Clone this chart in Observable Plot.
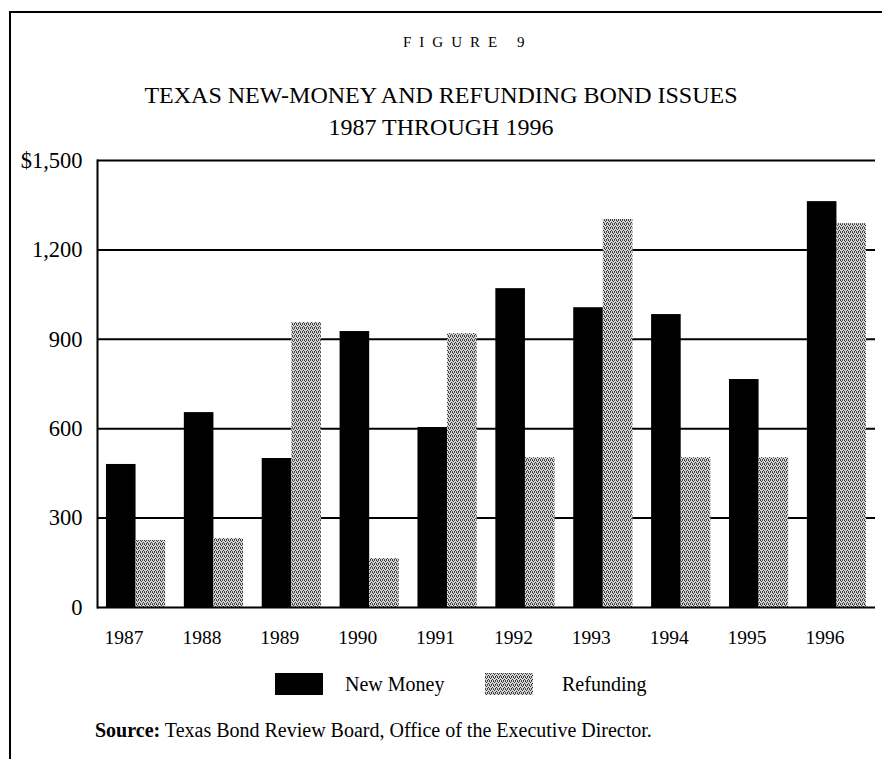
<!DOCTYPE html>
<html>
<head>
<meta charset="utf-8">
<script src="https://cdn.jsdelivr.net/npm/d3@7"></script>
<script src="https://cdn.jsdelivr.net/npm/@observablehq/plot@0.6"></script>
<style>
  html, body { margin: 0; padding: 0; background: #fff; }
  #page { position: relative; width: 882px; height: 759px; overflow: hidden; font-family: "Liberation Serif", serif; color: #000; }
  .abs { position: absolute; line-height: 1; white-space: nowrap; }
  #chart { position: absolute; left: 0; top: 0; }
</style>
</head>
<body>
<svg width="0" height="0" style="position:absolute">
  <defs>
    <pattern id="refundPat" width="4" height="4" patternUnits="userSpaceOnUse">
      <rect width="4" height="4" fill="#d4d4d4"></rect>
      <rect x="0" y="0" width="1" height="1" fill="#333"></rect>
      <rect x="2" y="0" width="1" height="1" fill="#555"></rect>
      <rect x="1" y="1" width="1" height="1" fill="#333"></rect>
      <rect x="3" y="2" width="1" height="1" fill="#333"></rect>
      <rect x="0" y="3" width="1" height="1" fill="#555"></rect>
      <rect x="2" y="3" width="1" height="1" fill="#333"></rect>
    </pattern>
  </defs>
</svg>
<div id="page">
  <div class="abs" style="left:9px; top:11px; right:0; height:2px; background:#000;"></div>
  <div class="abs" style="left:9px; top:11px; bottom:0; width:2px; background:#000;"></div>
  <div id="chart"></div>
  <div class="abs" id="fig" style="left:403px; top:35px; font-size:15px; letter-spacing:8px;">FIGURE 9</div>
  <div class="abs" style="left:0; width:882px; top:83px; font-size:24px; text-align:center;">TEXAS NEW-MONEY AND REFUNDING BOND ISSUES</div>
  <div class="abs" style="left:0; width:882px; top:115px; font-size:24px; text-align:center;">1987 THROUGH 1996</div>
  <div class="abs" id="legend" style="left:275px; top:673px; height:22px; font-size:20px;"></div>
  <div class="abs" style="left:95px; top:720px; font-size:20px;"><b>Source:</b> Texas Bond Review Board, Office of the Executive Director.</div>
</div>
<script>
// ---- data ----
const years = ["1987","1988","1989","1990","1991","1992","1993","1994","1995","1996"];
const newMoney = [480, 654, 500, 926, 604, 1070, 1006, 983, 765, 1362];
const refunding = [225, 231, 956, 164, 919, 503, 1302, 503, 503, 1288];
const seriesNames = ["New Money", "Refunding"];
const yTicks = [0, 300, 600, 900, 1200, 1500];
const yTickLabels = ["0", "300", "600", "900", "1,200", "$1,500"];

// ---- layout ----
const W = 882, H = 759;
const mTop = 160, mBottom = 152, mLeft = 97, mRight = 7;
const padIn = 0.24, padOut = 0.115;
const plotW = W - mLeft - mRight;
const step = plotW / (years.length - padIn + 2 * padOut);
const half = step * (1 - padIn) / 2;

const rows = [];
years.forEach((y, i) => {
  rows.push({year: y, series: seriesNames[0], value: newMoney[i]});
  rows.push({year: y, series: seriesNames[1], value: refunding[i]});
});

const colorRange = ["#000", "url(#refundPat)"];

const chart = Plot.plot({
  width: W, height: H,
  marginTop: mTop, marginBottom: mBottom, marginLeft: mLeft, marginRight: mRight,
  style: {fontFamily: "'Liberation Serif', serif", background: "transparent", color: "#000", overflow: "visible"},
  x: {domain: years, paddingInner: padIn, paddingOuter: padOut, round: false, label: null},
  y: {domain: [0, 1500], label: null},
  color: {domain: seriesNames, range: colorRange},
  marks: [
    Plot.ruleY(yTicks.filter(d => d > 0), {stroke: "#000", strokeWidth: 2}),
    Plot.barY(rows.filter(d => d.series === seriesNames[0]), {x: "year", y: "value", fill: "series", insetRight: half}),
    Plot.barY(rows.filter(d => d.series === seriesNames[1]), {x: "year", y: "value", fill: "series", insetLeft: half}),
    Plot.ruleY([0], {stroke: "#000", strokeWidth: 2}),
    Plot.frame({anchor: "left", stroke: "#000", strokeWidth: 2}),
    Plot.axisY({ticks: yTicks, tickFormat: d => yTickLabels[yTicks.indexOf(d)], tickSize: 0, tickPadding: 15, fontSize: 22.5, label: null}),
    Plot.axisX({tickSize: 0, tickPadding: 23, dx: -12, fontSize: 19.5, label: null})
  ]
});
document.getElementById("chart").appendChild(chart);

// legend
const legend = document.getElementById("legend");
const legendPos = [{box: 0, text: 70}, {box: 210, text: 287}];
seriesNames.forEach((name, i) => {
  const sw = document.createElementNS("http://www.w3.org/2000/svg", "svg");
  sw.setAttribute("width", 48); sw.setAttribute("height", 22);
  sw.style.position = "absolute"; sw.style.left = legendPos[i].box + "px"; sw.style.top = "0px";
  const r = document.createElementNS("http://www.w3.org/2000/svg", "rect");
  r.setAttribute("width", 48); r.setAttribute("height", 22);
  r.setAttribute("fill", colorRange[i]);
  sw.appendChild(r);
  legend.appendChild(sw);
  const t = document.createElement("div");
  t.className = "abs";
  t.style.left = legendPos[i].text + "px"; t.style.top = "1px";
  t.textContent = name;
  legend.appendChild(t);
});
</script>
</body>
</html>
